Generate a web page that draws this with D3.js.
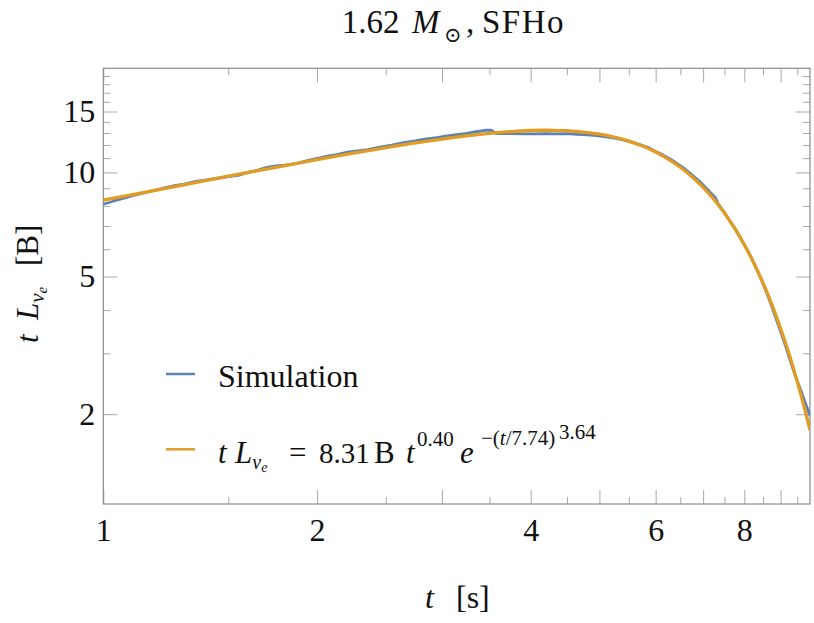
<!DOCTYPE html>
<html>
<head>
<meta charset="utf-8">
<script src="https://cdn.jsdelivr.net/npm/d3@7"></script>
<style>
  body { margin: 0; background: #fff; }
  svg { display: block; }
  text { font-family: "Liberation Serif", "DejaVu Serif", serif; fill: #111; }
  .it { font-style: italic; }
</style>
</head>
<body>
<div id="chart"></div>
<script>
// simulation (t [s], t*L [B])
const simTime = [1.00, 1.03, 1.06, 1.10, 1.14, 1.18, 1.22, 1.26, 1.30, 1.35, 1.40, 1.45, 1.50, 1.55,
  1.60, 1.65, 1.70, 1.75, 1.80, 1.86, 1.92, 1.98, 2.05, 2.12, 2.20, 2.28, 2.36, 2.45, 2.55, 2.65,
  2.75, 2.85, 2.95, 3.05, 3.15, 3.25, 3.35, 3.45, 3.52, 3.58, 3.65, 3.75, 3.90, 4.05, 4.20, 4.35,
  4.50, 4.65, 4.80, 4.95, 5.10, 5.25, 5.40, 5.55, 5.70, 5.85, 6.00, 6.15, 6.30, 6.45, 6.60, 6.75,
  6.90, 7.05, 7.20, 7.28, 7.35, 7.50, 7.65, 7.80, 7.95, 8.10, 8.25, 8.40, 8.55, 8.70, 8.85, 9.00,
  9.15, 9.30, 9.45, 9.60, 9.75, 9.90];
const simValue = [8.09, 8.24, 8.39, 8.57, 8.72, 8.87, 9.02, 9.16, 9.25, 9.42, 9.52, 9.62, 9.72, 9.81,
  10.00, 10.15, 10.34, 10.45, 10.50, 10.59, 10.76, 10.92, 11.10, 11.23, 11.43, 11.54, 11.64, 11.83, 11.99, 12.19,
  12.33, 12.51, 12.60, 12.76, 12.87, 12.97, 13.11, 13.24, 13.25, 12.94, 12.94, 12.95, 12.93, 12.92, 12.94, 12.93,
  12.94, 12.88, 12.84, 12.77, 12.68, 12.56, 12.42, 12.24, 12.04, 11.82, 11.49, 11.22, 10.92, 10.57, 10.23, 9.84,
  9.47, 9.06, 8.66, 8.48, 8.11, 7.65, 7.19, 6.78, 6.32, 5.92, 5.47, 5.05, 4.63, 4.22, 3.82, 3.47,
  3.14, 2.83, 2.56, 2.36, 2.16, 1.98];

// fitted curve
const fitTime = [1, 1.25, 1.5, 1.75, 2, 2.25, 2.5, 3, 3.25, 3.5, 4, 4.25, 4.5, 5, 5.25, 5.5, 5.75, 6, 6.25,
  6.5, 6.75, 7, 7.25, 7.5, 7.75, 8, 8.25, 8.5, 8.75, 9, 9.25, 9.5, 9.75, 9.9];
const fitValue = [8.31, 9.07, 9.75, 10.35, 10.89, 11.37, 11.79, 12.49, 12.76, 12.97, 13.22, 13.24, 13.20, 12.90, 12.65, 12.32, 11.92, 11.46, 10.93,
  10.35, 9.71, 9.05, 8.35, 7.63, 6.90, 6.18, 5.47, 4.79, 4.15, 3.54, 2.99, 2.48, 2.04, 1.80];

// ticks
const xMajor = [1, 2, 3, 4, 5, 6, 7, 8, 9];
const xMinor = [1.5, 2.5, 3.5, 4.5, 5.5, 6.5, 7.5, 8.5, 9.5];
const xLabels = [1, 2, 4, 6, 8];
const yMajor = [2, 5, 10, 15];
const yMinor = [3, 4, 6, 7, 8, 9, 11, 12, 13, 14, 16, 17, 18, 19];
const yLabels = [2, 5, 10, 15];

const blue = "#5e81b5", orange = "#e19c24";

var W = 814, H = 623;
var margin = {top: 68.3, right: 4, bottom: 119, left: 103.3},
    width = W - margin.left - margin.right,
    height = H - margin.top - margin.bottom;

var svg = d3.select("#chart").append("svg")
    .attr("width", W).attr("height", H);

var g = svg.append("g")
    .attr("transform", "translate(" + margin.left + "," + margin.top + ")");

var x = d3.scaleLog().domain([1, 9.9]).range([0, width]);
var y = d3.scaleLog().domain([1.1, 20]).range([height, 0]);

// ticks, pointing inwards on all four sides
function styleAxis(sel) {
    sel.select(".domain").remove();
    sel.selectAll(".tick line").attr("stroke", "#a8a8a8").attr("stroke-width", 1);
    sel.selectAll(".tick text").attr("font-size", 32).attr("font-family", "Liberation Serif, serif").attr("fill", "#111");
}
var fmtX = function (d) { return xLabels.indexOf(d) >= 0 ? d : ""; };
var fmtY = function (d) { return yLabels.indexOf(d) >= 0 ? d : ""; };

g.append("g").attr("transform", "translate(0," + height + ")")
    .call(d3.axisBottom(x).tickValues(xMajor).tickSize(-14).tickPadding(14).tickFormat(fmtX)).call(styleAxis);
g.append("g").attr("transform", "translate(0," + height + ")")
    .call(d3.axisBottom(x).tickValues(xMinor).tickSize(-7).tickFormat("")).call(styleAxis);
g.append("g")
    .call(d3.axisTop(x).tickValues(xMajor).tickSize(-14).tickFormat("")).call(styleAxis);
g.append("g")
    .call(d3.axisTop(x).tickValues(xMinor).tickSize(-7).tickFormat("")).call(styleAxis);

g.append("g")
    .call(d3.axisLeft(y).tickValues(yMajor).tickSize(-14).tickPadding(8).tickFormat(fmtY)).call(styleAxis);
g.append("g")
    .call(d3.axisLeft(y).tickValues(yMinor).tickSize(-7).tickFormat("")).call(styleAxis);
g.append("g").attr("transform", "translate(" + width + ",0)")
    .call(d3.axisRight(y).tickValues(yMajor).tickSize(-14).tickFormat("")).call(styleAxis);
g.append("g").attr("transform", "translate(" + width + ",0)")
    .call(d3.axisRight(y).tickValues(yMinor).tickSize(-7).tickFormat("")).call(styleAxis);

// frame
g.append("rect")
    .attr("width", width).attr("height", height)
    .attr("fill", "none").attr("stroke", "#8a8a8a").attr("stroke-width", 1.2);

// curves
var clip = g.append("clipPath").attr("id", "clip")
    .append("rect").attr("width", width).attr("height", height);

var simLine = d3.line()
    .x(function (d, i) { return x(simTime[i]); })
    .y(function (d) { return y(d); });
var fitLine = d3.line()
    .x(function (d, i) { return x(fitTime[i]); })
    .y(function (d) { return y(d); })
    .curve(d3.curveCatmullRom.alpha(0.5));

g.append("path").datum(simValue)
    .attr("clip-path", "url(#clip)")
    .attr("d", simLine)
    .attr("fill", "none").attr("stroke", blue).attr("stroke-width", 2.8)
    .attr("stroke-linejoin", "round");
g.append("path").datum(fitValue)
    .attr("clip-path", "url(#clip)")
    .attr("d", fitLine)
    .attr("fill", "none").attr("stroke", orange).attr("stroke-width", 3.3);

// title
var title = svg.append("text").attr("x", 341.7).attr("y", 33).attr("font-size", 33);
title.append("tspan").text("1.62");
title.append("tspan").attr("x", 412).attr("class", "it").text("M");
title.append("tspan").attr("x", 444).attr("dy", 9).attr("font-size", 21)
    .attr("font-family", "DejaVu Serif, serif").text("\u2299");
title.append("tspan").attr("x", 466).attr("dy", -9).text(",");
title.append("tspan").attr("x", 482).attr("letter-spacing", 1.5).text("SFHo");

// axis labels
var xl = svg.append("text").attr("x", 425).attr("y", 608).attr("font-size", 32);
xl.append("tspan").attr("class", "it").text("t");
xl.append("tspan").attr("x", 456).text("[s]");

var yl = svg.append("text").attr("transform", "translate(38,343) rotate(-90)").attr("font-size", 31);
yl.append("tspan").attr("class", "it").text("t");
yl.append("tspan").attr("x", 23).attr("class", "it").text("L");
yl.append("tspan").attr("dy", 6).attr("font-size", 21).attr("class", "it").text("\u03bd");
yl.append("tspan").attr("dy", 3).attr("font-size", 15).attr("class", "it").text("e");
yl.append("tspan").attr("x", 77).attr("dy", -9).text("[B]");

// legend
var legend = svg.append("g");
legend.append("line").attr("x1", 166).attr("x2", 195).attr("y1", 374).attr("y2", 374)
    .attr("stroke", blue).attr("stroke-width", 2.5);
legend.append("text").attr("x", 218).attr("y", 387).attr("font-size", 32).text("Simulation");

legend.append("line").attr("x1", 166).attr("x2", 195).attr("y1", 449.3).attr("y2", 449.3)
    .attr("stroke", orange).attr("stroke-width", 2.5);
var f = legend.append("text").attr("x", 218).attr("y", 463.3).attr("font-size", 31);
f.append("tspan").attr("class", "it").text("t");
f.append("tspan").attr("x", 235).attr("class", "it").text("L");
f.append("tspan").attr("dy", 6).attr("font-size", 20).attr("class", "it").text("\u03bd");
f.append("tspan").attr("dy", 3).attr("font-size", 14).attr("class", "it").text("e");
f.append("tspan").attr("x", 289).attr("dy", -9).text("=");
f.append("tspan").attr("x", 319).attr("font-size", 29).text("8.31");
f.append("tspan").attr("x", 374).text("B");
f.append("tspan").attr("x", 406).attr("class", "it").text("t");
f.append("tspan").attr("x", 417).attr("dy", -17).attr("font-size", 21).text("0.40");
f.append("tspan").attr("x", 460).attr("dy", 17).attr("class", "it").text("e");
f.append("tspan").attr("x", 481).attr("dy", -18).attr("font-size", 21).text("\u2212(");
f.append("tspan").attr("font-size", 21).attr("class", "it").text("t");
f.append("tspan").attr("font-size", 21).text("/7.74)");
f.append("tspan").attr("x", 559).attr("dy", -6).attr("font-size", 21).text("3.64");
</script>
</body>
</html>
